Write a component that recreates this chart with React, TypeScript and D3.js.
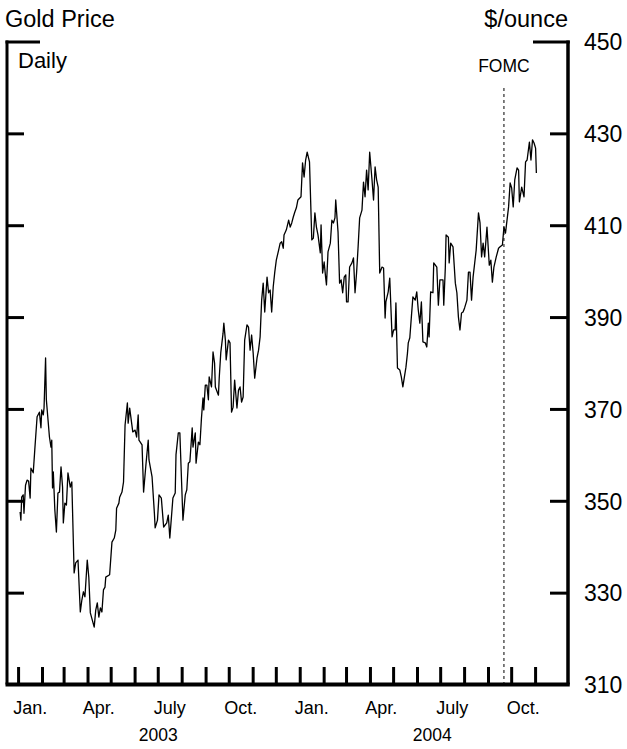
import React from 'react';
import * as d3 from 'd3';

const dates = [
  "2003-01-03","2003-01-04","2003-01-05","2003-01-07","2003-01-08","2003-01-10","2003-01-12","2003-01-14","2003-01-16","2003-01-17",
  "2003-01-20","2003-01-22","2003-01-25","2003-01-28","2003-01-30","2003-01-31","2003-02-02","2003-02-03","2003-02-05","2003-02-06",
  "2003-02-10","2003-02-12","2003-02-13","2003-02-14","2003-02-15","2003-02-17","2003-02-19","2003-02-21","2003-02-23","2003-02-25",
  "2003-02-27","2003-02-28","2003-03-02","2003-03-04","2003-03-06","2003-03-09","2003-03-11","2003-03-14","2003-03-16","2003-03-19",
  "2003-03-22","2003-03-24","2003-03-26","2003-03-28","2003-03-31","2003-04-02","2003-04-04","2003-04-09","2003-04-11","2003-04-13",
  "2003-04-15","2003-04-17","2003-04-19","2003-04-21","2003-04-23","2003-04-24","2003-04-29","2003-05-02","2003-05-05","2003-05-07",
  "2003-05-08","2003-05-11","2003-05-12","2003-05-15","2003-05-17","2003-05-19","2003-05-22","2003-05-23","2003-05-25","2003-05-29",
  "2003-06-01","2003-06-03","2003-06-05","2003-06-06","2003-06-10","2003-06-12","2003-06-15","2003-06-18","2003-06-19","2003-06-23",
  "2003-06-26","2003-06-27","2003-06-30","2003-07-02","2003-07-05","2003-07-08","2003-07-12","2003-07-14","2003-07-16","2003-07-20",
  "2003-07-23","2003-07-24","2003-07-27","2003-07-29","2003-08-02","2003-08-05","2003-08-07","2003-08-09","2003-08-11","2003-08-14",
  "2003-08-15","2003-08-18","2003-08-19","2003-08-22","2003-08-24","2003-08-26","2003-08-28","2003-08-29","2003-08-31","2003-09-02",
  "2003-09-04","2003-09-05","2003-09-08","2003-09-10","2003-09-12","2003-09-13","2003-09-17","2003-09-18","2003-09-20","2003-09-23",
  "2003-09-24","2003-09-26","2003-09-27","2003-09-30","2003-10-02","2003-10-04","2003-10-06","2003-10-08","2003-10-11","2003-10-13",
  "2003-10-15","2003-10-17","2003-10-19","2003-10-21","2003-10-24","2003-10-26","2003-10-28","2003-10-30","2003-11-01","2003-11-03",
  "2003-11-06","2003-11-08","2003-11-10","2003-11-12","2003-11-14","2003-11-16","2003-11-19","2003-11-21","2003-11-23","2003-11-25",
  "2003-11-27","2003-11-29","2003-12-01","2003-12-04","2003-12-06","2003-12-08","2003-12-10","2003-12-11","2003-12-14","2003-12-17",
  "2003-12-19","2003-12-21","2003-12-23","2003-12-25","2003-12-27","2003-12-29","2004-01-02","2004-01-04","2004-01-06","2004-01-08",
  "2004-01-10","2004-01-13","2004-01-16","2004-01-18","2004-01-20","2004-01-22","2004-01-24","2004-01-27","2004-01-28","2004-01-30",
  "2004-02-01","2004-02-03","2004-02-04","2004-02-06","2004-02-09","2004-02-11","2004-02-13","2004-02-15","2004-02-16","2004-02-19",
  "2004-02-21","2004-02-23","2004-02-25","2004-02-27","2004-02-29","2004-03-01","2004-03-03","2004-03-05","2004-03-08","2004-03-10",
  "2004-03-12","2004-03-14","2004-03-16","2004-03-18","2004-03-21","2004-03-23","2004-03-25","2004-03-27","2004-03-29","2004-03-31",
  "2004-04-03","2004-04-05","2004-04-07","2004-04-09","2004-04-11","2004-04-13","2004-04-16","2004-04-18","2004-04-20","2004-04-21",
  "2004-04-24","2004-04-26","2004-04-29","2004-05-01","2004-05-03","2004-05-04","2004-05-06","2004-05-09","2004-05-11","2004-05-13",
  "2004-05-15","2004-05-17","2004-05-19","2004-05-20","2004-05-22","2004-05-24","2004-05-26","2004-05-29","2004-05-31","2004-06-02",
  "2004-06-04","2004-06-06","2004-06-08","2004-06-11","2004-06-13","2004-06-15","2004-06-16","2004-06-18","2004-06-21","2004-06-22",
  "2004-06-26","2004-06-28","2004-06-30","2004-07-04","2004-07-05","2004-07-07","2004-07-08","2004-07-11","2004-07-12","2004-07-14",
  "2004-07-17","2004-07-20","2004-07-22","2004-07-24","2004-07-26","2004-07-28","2004-07-30","2004-08-01","2004-08-04","2004-08-06",
  "2004-08-08","2004-08-10","2004-08-12","2004-08-16","2004-08-19","2004-08-21","2004-08-23","2004-08-25","2004-08-27","2004-08-30",
  "2004-09-02","2004-09-04","2004-09-06","2004-09-08","2004-09-11","2004-09-14","2004-09-16","2004-09-19","2004-09-21","2004-09-23",
  "2004-09-27","2004-09-29","2004-10-01","2004-10-03","2004-10-05","2004-10-08","2004-10-10","2004-10-11","2004-10-14","2004-10-17",
  "2004-10-19","2004-10-21","2004-10-24","2004-10-26","2004-10-28","2004-10-30","2004-11-01","2004-11-02"
];

const prices = [
  347.7,345.9,350.9,351.4,347.4,353.5,354.6,354.4,350.7,357.2,
  356.2,361.2,368.4,369.4,366.0,369.9,368.8,370.3,381.2,372.1,
  364.0,361.8,363.3,352.9,356.4,348.1,343.3,351.8,352.0,357.5,
  353.1,345.3,349.6,349.2,356.2,353.1,354.2,334.4,336.6,337.2,
  325.9,328.5,330.3,329.2,337.2,333.5,325.7,322.6,326.3,327.9,
  324.8,326.8,325.9,330.7,331.3,333.5,334.0,341.1,342.0,343.7,
  348.5,349.6,350.9,352.0,354.2,366.6,371.4,367.0,370.3,365.1,
  365.5,364.0,368.8,363.3,362.3,352.0,357.9,363.3,359.0,355.3,
  347.4,344.2,345.9,351.4,350.7,344.4,345.3,347.0,342.0,350.7,
  351.8,360.1,364.9,364.9,345.9,351.4,352.5,358.3,358.6,366.0,
  361.8,364.9,358.3,362.9,362.3,368.1,372.5,369.9,375.3,375.3,
  372.1,377.1,374.9,382.5,380.1,374.9,373.1,376.8,382.3,386.6,
  388.8,385.1,380.8,385.1,384.5,369.4,370.5,376.4,370.3,374.2,
  374.9,371.6,372.7,385.1,388.4,387.9,382.9,386.2,382.3,376.8,
  381.2,382.9,385.8,393.8,397.5,391.2,398.8,395.4,396.0,391.2,
  396.7,399.9,402.5,404.7,406.2,406.5,405.1,408.0,409.1,411.2,
  409.7,410.6,411.9,413.0,413.9,415.6,416.3,423.7,420.6,424.3,
  426.0,423.9,406.9,407.3,412.8,409.7,408.0,404.1,410.2,399.7,
  402.1,398.6,397.1,404.3,406.2,411.2,410.6,411.7,415.6,408.6,
  397.5,398.2,395.4,398.8,399.3,393.4,393.4,401.0,401.9,403.0,
  395.4,399.7,405.4,411.7,413.4,419.5,416.3,422.1,417.8,426.0,
  420.0,415.6,422.8,420.0,418.4,399.7,401.0,400.8,389.9,393.4,
  395.6,398.6,385.8,387.3,387.3,393.2,379.0,378.6,377.1,374.9,
  377.1,379.2,382.3,384.5,385.6,390.1,394.5,393.8,395.6,391.6,
  388.8,393.4,384.7,384.5,383.6,388.8,385.8,395.6,395.4,401.9,
  401.0,392.7,398.2,398.2,392.7,400.8,408.0,407.5,401.9,406.2,
  405.4,397.5,395.4,390.1,387.3,391.0,391.2,392.1,393.8,399.9,
  399.9,393.8,398.8,404.7,412.8,410.6,403.2,406.2,403.2,409.7,
  401.4,402.5,397.7,401.0,403.2,405.1,405.4,405.8,409.7,408.4,
  414.1,419.3,418.2,414.1,420.0,422.6,422.1,415.2,418.4,416.3,
  423.9,424.3,428.2,424.3,428.7,428.0,426.9,421.5
];

const yTickValues = [330, 350, 370, 390, 410, 430];
const yLabelValues = [310, 330, 350, 370, 390, 410, 430, 450];
const monthLabels = ["Jan.", "Apr.", "July", "Oct.", "Jan.", "Apr.", "July", "Oct."];
const monthLabelDates = ["2003-01-16", "2003-04-15", "2003-07-16", "2003-10-16", "2004-01-16", "2004-04-15", "2004-07-16", "2004-10-16"];
const yearLabels = ["2003", "2004"];
const yearLabelDates = ["2003-07-01", "2004-06-20"];
const fomcDate = "2004-09-21";
const domainDates = ["2002-12-17", "2004-12-13"];
const tickRange = ["2003-01-01", "2004-11-02"];

const W = 627;
const H = 749;
const FONT = "'Liberation Sans', Arial, Helvetica, sans-serif";

export default function App() {
  const parse = d3.utcParse("%Y-%m-%d");
  const x = d3.scaleUtc()
    .domain([parse(domainDates[0])!, parse(domainDates[1])!])
    .range([7, 568]);
  const y = d3.scaleLinear().domain([310, 450]).range([685, 42]);

  const data = dates.map((d, i) => ({ date: parse(d)!, value: prices[i] }));
  const line = d3.line<{ date: Date; value: number }>()
    .x(d => x(d.date))
    .y(d => y(d.value));

  const monthTicks = d3.utcMonth.range(parse(tickRange[0])!, parse(tickRange[1])!);
  const xL = 7, xR = 568, yT = 42, yB = 684.5;
  const fx = x(parse(fomcDate)!);

  return (
    <svg width={W} height={H} style={{ position: 'absolute', left: 0, top: 0, background: '#fff' }}
      fontFamily={FONT}>
      <rect x={0} y={0} width={W} height={H} fill="#fff" />
      {/* titles */}
      <text x={5} y={27} fontSize={23.5} fill="#000">Gold Price</text>
      <text x={568} y={27} fontSize={23.5} fill="#000" textAnchor="end">$/ounce</text>
      <text x={18} y={68} fontSize={22} fill="#000">Daily</text>

      {/* FOMC */}
      <text x={fx} y={72} fontSize={17.5} fill="#000" textAnchor="middle">FOMC</text>
      <line x1={fx} x2={fx} y1={88} y2={yB} stroke="#000" strokeWidth={1} strokeDasharray="3,3" />

      {/* frame */}
      <line x1={xL} x2={xL} y1={yT - 1.5} y2={yB} stroke="#000" strokeWidth={3} />
      <line x1={xR} x2={xR} y1={yT - 1.5} y2={yB} stroke="#000" strokeWidth={3.5} />
      <line x1={xL - 1.5} x2={xR + 1.75} y1={yB} y2={yB} stroke="#000" strokeWidth={4} />
      <line x1={xL - 1.5} x2={40} y1={y(450)} y2={y(450)} stroke="#000" strokeWidth={3} />
      <line x1={533} x2={xR + 1.75} y1={y(450)} y2={y(450)} stroke="#000" strokeWidth={3} />

      {/* y ticks */}
      {yTickValues.map(v => (
        <g key={v}>
          <line x1={xL} x2={24} y1={y(v)} y2={y(v)} stroke="#000" strokeWidth={3} />
          <line x1={550} x2={xR} y1={y(v)} y2={y(v)} stroke="#000" strokeWidth={3} />
        </g>
      ))}
      {yLabelValues.map(v => (
        <text key={v} x={584} y={y(v)} dy="0.36em" fontSize={23} fill="#000">{v}</text>
      ))}

      {/* x ticks */}
      {monthTicks.map((d, i) => (
        <line key={i} x1={x(d)} x2={x(d)} y1={667} y2={yB} stroke="#000" strokeWidth={3} />
      ))}
      {monthLabels.map((m, i) => (
        <text key={i} x={x(parse(monthLabelDates[i])!)} y={714} fontSize={18} fill="#000" textAnchor="middle">{m}</text>
      ))}
      {yearLabels.map((t, i) => (
        <text key={t} x={x(parse(yearLabelDates[i])!)} y={741} fontSize={17.5} fill="#000" textAnchor="middle">{t}</text>
      ))}

      {/* price line */}
      <path d={line(data) || ''} fill="none" stroke="#000" strokeWidth={1.3} strokeLinejoin="round" />
    </svg>
  );
}
